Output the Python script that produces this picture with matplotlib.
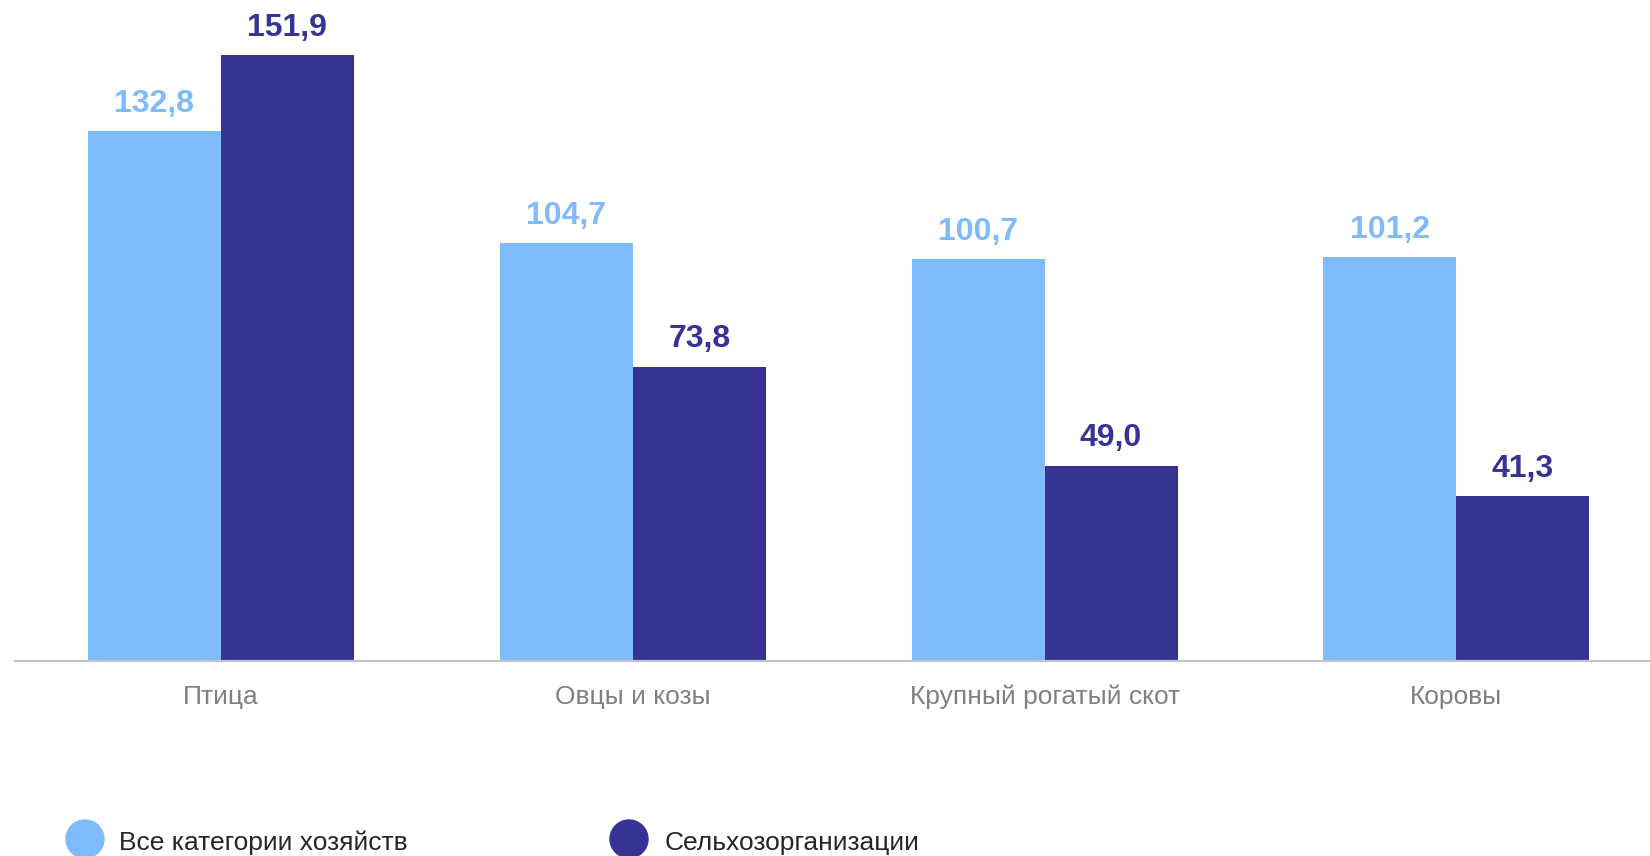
import matplotlib
matplotlib.use("Agg")
import matplotlib.pyplot as plt
from matplotlib.patches import Circle
import numpy as np

plt.rcParams['font.family'] = ['Liberation Sans', 'DejaVu Sans']

categories = ["Птица", "Овцы и козы", "Крупный рогатый скот", "Коровы"]
all_farms = [132.8, 104.7, 100.7, 101.2]
agri_orgs = [151.9, 73.8, 49.0, 41.3]
series_names = ["Все категории хозяйств", "Сельхозорганизации"]

c_light = "#7FBBFA"
c_dark = "#373395"

W, H = 1650, 856
fig = plt.figure(figsize=(W / 100, H / 100), dpi=100)
ax = fig.add_axes([15 / W, (H - 661) / H, 1 - 15 / W, 661 / H])

x = np.arange(len(categories))
bw = 0.323
b1 = ax.bar(x - bw / 2, all_farms, bw, color=c_light, linewidth=0)
b2 = ax.bar(x + bw / 2, agri_orgs, bw, color=c_dark, linewidth=0)

def fmt(v):
    return f"{v:.1f}".replace(".", ",")

for bars, vals, col in ((b1, all_farms, c_light), (b2, agri_orgs, c_dark)):
    for rect, v in zip(bars, vals):
        ax.annotate(fmt(v), (rect.get_x() + rect.get_width() / 2, v),
                    xytext=(0, 14), textcoords="offset points",
                    ha="center", va="baseline", fontsize=23,
                    fontweight="bold", color=col)

ax.set_xlim(-0.5, 3.47)
ax.set_ylim(0, 165.7)
ax.set_xticks(x)
ax.set_xticklabels(categories, fontsize=19, color="#808080")
ax.tick_params(axis="x", length=0, pad=17)
ax.set_yticks([])
for s in ("left", "right", "top"):
    ax.spines[s].set_visible(False)
ax.spines["bottom"].set_color("#C4C4C4")
ax.spines["bottom"].set_linewidth(1.6)

# legend
leg = [(85, series_names[0], c_light, 119), (629, series_names[1], c_dark, 665)]
for cx, name, col, tx in leg:
    fig.add_artist(Circle((cx / 100, (H - 839) / 100), 0.19, color=col,
                          transform=fig.dpi_scale_trans, clip_on=False))
    fig.text(tx / W, (H - 843) / H, name, fontsize=19, color="#262626",
             ha="left", va="center")

fig.savefig("out.png", dpi=100, facecolor="white")
